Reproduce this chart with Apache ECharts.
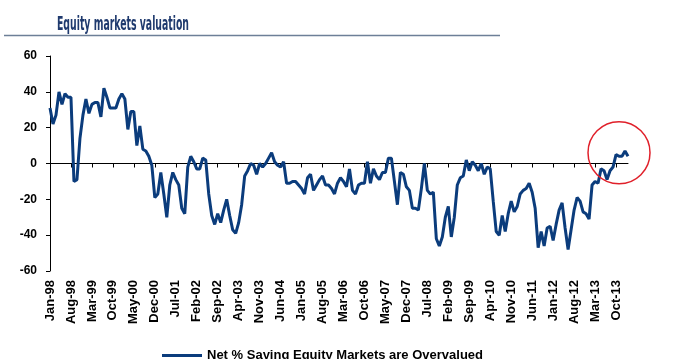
<!DOCTYPE html>
<html><head><meta charset="utf-8">
<script src="https://cdn.jsdelivr.net/npm/echarts@6/dist/echarts.min.js"></script>
<style>html,body{margin:0;padding:0;background:#fff}#c{width:680px;height:359px}</style>
</head><body><div id="c"></div>
<script>
const titleText = 'Equity markets valuation';
const seriesName = 'Net % Saying Equity Markets are Overvalued';
const monthNames = ['Jan','Feb','Mar','Apr','May','Jun','Jul','Aug','Sep','Oct','Nov','Dec'];
const startYear = 1998;
const values = [
 31,22,27,40,33,39,37,37,-10,-9,14,27,
 36,28,33,34,34,26,42,37,31,31,31,36,
 39,36,19,29,29,10,21,8,7,4,-1,-19,
 -17,-5,-17,-30,-12,-5,-9,-12,-25,-28,-2,4,
 1,-3,-3,3,2,-17,-29,-34,-28,-33,-26,-20,
 -29,-37,-39,-33,-23,-7,-4,0,-1,-6,0,-2,
 0,3,6,1,-1,-2,1,-11,-11,-10,-10,-12,
 -14,-17,-8,-6,-15,-12,-9,-7,-12,-12,-14,-17,
 -11,-8,-10,-13,-3,-15,-17,-12,-11,-11,1,-11,
 -3,-7,-9,-5,-5,3,3,-10,-23,-5,-6,-13,
 -15,-25,-25,-26,-14,0,-15,-17,-16,-42,-46,-41,
 -30,-24,-41,-30,-12,-8,-7,2,-4,1,-1,-4,
 0,-6,-2,-3,-21,-38,-40,-29,-38,-28,-21,-27,
 -24,-17,-15,-14,-11,-16,-25,-47,-38,-46,-36,-35,
 -43,-34,-26,-22,-36,-48,-37,-26,-19,-21,-27,-28,
 -31,-12,-10,-11,-3,-4,-9,-4,-2,5,4,4,
 7,4
];
const categories = [];
for (let i = 0; i < values.length; i++) {
  const m = i % 12, y = startYear + Math.floor(i / 12);
  categories.push(monthNames[m] + '-' + String(y % 100).padStart(2, '0'));
}
const yMin = -60, yMax = 60, yInterval = 20;
const labelStep = 7;
const highlightPoint = [190, 6];

const lineColor = '#0b3c7c';
const labelFont = "'Liberation Sans', Arial, sans-serif";
const titleFont = "bold 19px 'Liberation Sans Narrow', 'DejaVu Sans Condensed', sans-serif";

const chart = echarts.init(document.getElementById('c'), null, {renderer: 'canvas'});

const cv = document.createElement('canvas').getContext('2d');
cv.font = titleFont;
const titleScale = 132 / cv.measureText(titleText).width;

chart.setOption({
  animation: false,
  backgroundColor: '#fff',
  grid: {left: 50, right: 52, top: 56, bottom: 88, containLabel: false},
  xAxis: [{
    type: 'category', data: categories, boundaryGap: false, position: 'bottom',
    axisLine: {show: false, onZero: false}, axisTick: {show: false},
    axisLabel: {interval: labelStep - 1, rotate: 90, margin: 9, color: '#000',
      fontWeight: 'bold', fontSize: 13, fontFamily: labelFont},
    splitLine: {show: false}
  }, {
    type: 'category', data: categories, boundaryGap: false, position: 'bottom',
    axisLine: {show: true, onZero: true, onZeroAxisIndex: 0, lineStyle: {color: '#000', width: 1}},
    axisTick: {show: true, interval: labelStep - 1, length: 4, lineStyle: {color: '#000'}},
    axisLabel: {show: false}, splitLine: {show: false}
  }],
  yAxis: {
    type: 'value', min: yMin, max: yMax, interval: yInterval,
    axisLine: {show: true, lineStyle: {color: '#000', width: 1}},
    axisTick: {show: true, length: 4, lineStyle: {color: '#000'}},
    axisLabel: {margin: 13, color: '#000', fontWeight: 'bold', fontSize: 12, fontFamily: labelFont},
    splitLine: {show: false}
  },
  legend: {
    data: [{name: seriesName, icon: 'rect'}],
    left: 157, top: 344, itemWidth: 40, itemHeight: 3, itemGap: 5,
    textStyle: {color: '#000', fontWeight: 'bold', fontSize: 13, fontFamily: labelFont}
  },
  series: [{
    name: seriesName, type: 'line', data: values, xAxisIndex: 0, yAxisIndex: 0,
    showSymbol: false, symbol: 'none',
    lineStyle: {color: lineColor, width: 3}, itemStyle: {color: lineColor}
  }]
});

const c = chart.convertToPixel({xAxisIndex: 0, yAxisIndex: 0}, highlightPoint);
chart.setOption({
  graphic: [
    {type: 'text', x: 57, y: 16, scaleX: titleScale,
      style: {text: titleText, font: titleFont, fill: '#1f3a6e'}},
    {type: 'line', shape: {x1: 4, y1: 35.5, x2: 500, y2: 35.5},
      style: {stroke: '#6d7f97', lineWidth: 1.5}},
    {type: 'circle', shape: {cx: c[0], cy: c[1], r: 31},
      style: {fill: 'none', stroke: '#e0202a', lineWidth: 1.5}, z: 100}
  ]
});
</script></body></html>
